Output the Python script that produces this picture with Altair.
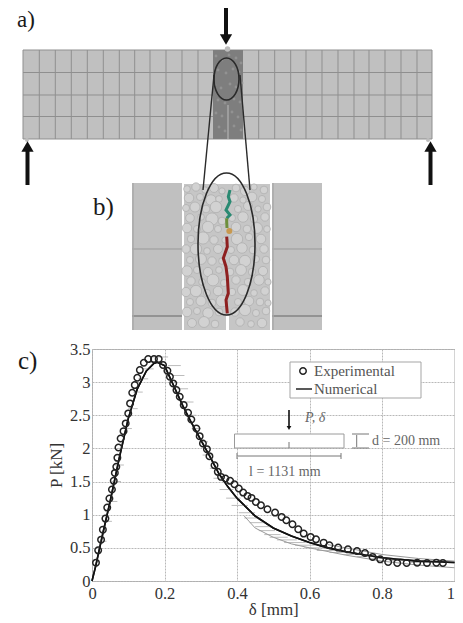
import altair as alt
import pandas as pd

# ---------- panel c) values ----------
exp_d = [.011,.017,.025,.030,.037,.042,.048,.055,.060,.063,.067,.070,.073,.079,.087,.093,.100,.105,.111,.118,.125,.132,.143,.155,.171,.184,.196,.208,.215,.224,.233,.242,.253,.265,.274,.288,.297,.306,.317,.324,.338,.347,.356,.368,.381,.393,.405,.417,.429,.440,.452,.466,.484,.505,.523,.536,.553,.569,.584,.603,.618,.639,.655,.679,.706,.731,.753,.774,.795,.817,.842,.868,.897,.924,.950,.968]
exp_p = [.277,.463,.624,.775,.942,1.108,1.244,1.380,1.511,1.631,1.722,1.858,2.014,2.150,2.261,2.377,2.528,2.679,2.840,2.956,3.066,3.182,3.293,3.348,3.348,3.348,3.258,3.172,3.082,2.981,2.880,2.779,2.654,2.538,2.437,2.301,2.185,2.075,1.989,1.883,1.747,1.647,1.571,1.546,1.511,1.460,1.395,1.334,1.284,1.254,1.193,1.143,1.083,1.032,.967,.916,.856,.780,.715,.665,.629,.579,.539,.504,.478,.453,.423,.363,.327,.287,.272,.272,.277,.272,.277,.272]
num_d = [0,.01,.03,.05,.075,.1,.125,.15,.17,.18,.2,.225,.25,.275,.3,.325,.35,.375,.4,.45,.5,.55,.6,.65,.7,.8,.9,1]
num_p = [0,.22,.72,1.2,1.85,2.45,2.9,3.17,3.28,3.3,3.25,2.95,2.65,2.38,2.13,1.88,1.62,1.42,1.25,.98,.8,.68,.58,.5,.44,.35,.3,.28]
upper_d = [.65,.7,.8,.9,1]
upper_p = [.55,.5,.4,.34,.3]
lower_d = [.42,.45,.5,.55,.6,.7,.8,.9,1]
lower_p = [.98,.8,.66,.56,.5,.39,.3,.24,.2]
err_p  = [.6,.9,1.2,1.5,1.75,2.0,2.3,2.6,2.85,3.05,3.2,3.3,3.38,3.25,3.1,2.9,2.7,2.5,2.3,2.1,1.9,1.7,1.55,1.38,1.25,1.14,1.03,.95,.88,.82,.76,.7,.66,.62,.58,.54,.5,.46,.43,.4,.37,.34,.31,.28]
err_d1 = [.018,.03,.043,.055,.062,.072,.085,.1,.114,.128,.14,.155,.165,.21,.22,.235,.25,.26,.275,.295,.305,.325,.335,.352,.37,.385,.405,.42,.435,.45,.46,.475,.49,.51,.53,.56,.585,.62,.655,.69,.73,.77,.82,.88]
err_d2 = [.04,.055,.07,.08,.088,.1,.11,.126,.14,.155,.17,.19,.21,.245,.255,.265,.28,.288,.3,.32,.33,.345,.365,.39,.41,.43,.45,.465,.48,.495,.505,.52,.54,.565,.59,.62,.65,.69,.72,.76,.8,.85,.9,.97]
y_ticks = [0, .5, 1, 1.5, 2, 2.5, 3, 3.5]
x_ticks = [0, .2, .4, .6, .8, 1]

# ---------- schematic values, in picture pixels ----------
beam_vx = [39.3,55.3,71.3,87.3,103.3,119.3,134.7,150,166,182,198,258.7,274.7,290.7,306,322,338,354,369,385,401,417]
beam_hy = [72.5,95,116.5]
grain_x = [187,196,205,214,222,236,245,254,264,189,200,211,219,234,243,252,262,186,195,206,216,238,248,258,267,190,201,212,222,232,243,254,265,187,197,208,218,236,247,257,267,191,203,214,225,237,249,261,186,196,207,218,231,242,253,264,190,201,212,222,234,245,256,266,187,197,208,219,230,241,252,263,191,202,213,224,236,248,259,268,186,196,207,218,232,243,254,265,190,201,212,222,238,249,260,268,187,197,208,219,235,245,256,266,192,204,215,240,251,262]
grain_y = [189,187,190,188,191,188,191,187,190,198,197,200,199,198,200,197,199,208,207,209,207,209,206,209,207,218,217,219,221,218,217,219,217,228,229,227,229,227,229,228,229,239,238,240,240,239,237,239,249,249,251,249,250,248,250,249,260,259,261,261,260,261,259,260,271,270,272,270,272,270,272,271,281,282,280,283,280,282,280,282,292,291,293,291,292,290,293,291,302,301,303,301,302,301,302,303,312,311,313,312,312,310,313,311,323,322,324,322,324,323]
grain_s = [45,70,40,80,40,60,85,40,60,90,50,110,45,70,40,95,50,50,100,60,130,50,80,40,60,75,45,150,60,50,110,55,70,90,50,130,50,90,60,120,45,55,150,70,40,130,55,90,70,130,45,80,50,110,60,70,50,120,70,45,90,130,50,60,110,50,85,45,60,120,55,85,70,45,140,50,70,55,110,40,85,130,50,90,55,120,45,70,50,100,60,140,50,90,60,40,90,50,110,60,70,130,50,60,80,120,60,70,45,90]
block_x = [216,222,229,236,241,218,226,233,239,215,221,230,236,242,218,225,234,240,216,222,232,238,219,225,234,241]
block_y = [56,60,55,58,63,70,73,69,72,85,88,84,87,83,100,103,99,102,113,116,112,117,127,131,126,130]

frame = dict(domain=False, ticks=False)
PLOT_W = 362.5
PX = alt.Scale(domain=[92, 92 + PLOT_W], nice=False, zero=False)
PY = alt.Scale(domain=[581, 349], nice=False, zero=False)
DX = alt.Scale(domain=[0, 1], nice=False, zero=False)
DY = alt.Scale(domain=[0, 3.5], nice=False, zero=False)
GREY = "#c0c0c0"
SERIF = "Liberation Serif"

def px(**k):
    out = dict(x=alt.X("x:Q", scale=PX, axis=None), y=alt.Y("y:Q", scale=PY, axis=None))
    if "x2" in k: out["x2"] = alt.X2("x2:Q")
    if "y2" in k: out["y2"] = alt.Y2("y2:Q")
    return out

def rects(color, stroke=None, **cols):
    kw = dict(color=color)
    if stroke:
        kw["stroke"] = stroke
    return alt.Chart(pd.DataFrame(cols)).mark_rect(**kw).encode(**px(x2=1, y2=1))

def rules(color, w=1, **cols):
    m = alt.Chart(pd.DataFrame(cols)).mark_rule(color=color, strokeWidth=w)
    return m.encode(**px(**{k: 1 for k in cols if k in ("x2", "y2")}))

def path(color, w, xs, ys):
    df = pd.DataFrame(dict(x=xs, y=ys, o=range(len(xs))))
    return alt.Chart(df).mark_line(color=color, strokeWidth=w, interpolate="linear").encode(
        order="o:Q", **px())

def heads(shape, size, xs, ys, color="#111"):
    return alt.Chart(pd.DataFrame(dict(x=xs, y=ys))).mark_point(
        shape=shape, filled=True, size=size, color=color, opacity=1).encode(**px())

def ellipse(cx, cy, rx, ry):
    r = rx / ry / 2
    shape = f"M0,-0.5A{r:.4f},0.5 0 1,1 0,0.5A{r:.4f},0.5 0 1,1 0,-0.5Z"
    return alt.Chart(pd.DataFrame(dict(x=[cx], y=[cy]))).mark_point(
        shape=shape, filled=False, size=(4 * ry) ** 2, color="#2a2a2a",
        strokeWidth=1.6, opacity=1).encode(**px())

def label(text, x, y, size=24, color="#1a1a1a", italic=False, family=SERIF):
    return alt.Chart(pd.DataFrame(dict(x=[x], y=[y], t=[text]))).mark_text(
        align="left", baseline="middle", fontSize=size, color=color, font=family,
        fontStyle="italic" if italic else "normal").encode(text="t:N", **px())

LINE = "#8f8f8f"
layers = []

# ---- plot c) ----
layers.append(
    alt.Chart(pd.DataFrame(dict(d=num_d, p=num_p))).mark_line(color="#111", strokeWidth=1.6).encode(
        x=alt.X("d:Q", scale=DX, title="δ [mm]",
                axis=alt.Axis(values=x_ticks, labelExpr="datum.value", grid=True, gridColor="#b8b8b8",
                              gridDash=[2, 1], labelPadding=4, labelFontSize=16.5, labelFont=SERIF,
                              labelColor="#333", titleFont=SERIF, titleFontSize=17, titleFontWeight="normal",
                              labelAlign=alt.expr("datum.value == 1 ? 'right' : 'center'"),
                              titleColor="#333", titlePadding=0, labelFlush=False, **frame)),
        y=alt.Y("p:Q", scale=DY, title="P [kN]",
                axis=alt.Axis(values=y_ticks, labelExpr="datum.value", grid=True, gridColor="#b8b8b8",
                              gridDash=[2, 1], labelPadding=2, labelFontSize=16.5, labelFont=SERIF,
                              labelColor="#333", titleFont=SERIF, titleFontSize=17, titleFontWeight="normal",
                              titleColor="#333", titlePadding=4, labelFlush=False, **frame)),
        order="d:Q")
)

# measured scatter as short horizontal bars
layers.append(
    alt.Chart(pd.DataFrame(dict(d=err_d1, d2=err_d2, p=err_p))).mark_rule(color="#bcbcbc", strokeWidth=1).encode(
        x=alt.X("d:Q", scale=DX, axis=None), x2="d2:Q", y=alt.Y("p:Q", scale=DY, axis=None))
)
for xs, ys in ((upper_d, upper_p), (lower_d, lower_p)):
    layers.append(
        alt.Chart(pd.DataFrame(dict(d=xs, p=ys))).mark_line(color="#9a9a9a", strokeWidth=1).encode(
            x=alt.X("d:Q", scale=DX, axis=None), y=alt.Y("p:Q", scale=DY, axis=None), order="d:Q")
    )
layers.append(
    alt.Chart(pd.DataFrame(dict(d=num_d, p=num_p))).mark_line(color="#111", strokeWidth=1.6).encode(
        x=alt.X("d:Q", scale=DX, axis=None), y=alt.Y("p:Q", scale=DY, axis=None), order="d:Q")
)
layers.append(
    alt.Chart(pd.DataFrame(dict(d=exp_d, p=exp_p))).mark_point(
        shape="circle", filled=False, color="#222", size=42, strokeWidth=1.5, opacity=1).encode(
        x=alt.X("d:Q", scale=DX, axis=None), y=alt.Y("p:Q", scale=DY, axis=None))
)

# ---- legend box ----
layers += [
    rects("white", stroke="#a5a5a5", x=[290], x2=[421], y=[362], y2=[398]),
    alt.Chart(pd.DataFrame(dict(x=[303], y=[371]))).mark_point(
        shape="circle", filled=False, color="#222", size=42, strokeWidth=1.5, opacity=1).encode(**px()),
    rules("#222", 1.5, x=[296], x2=[312], y=[389]),
    label("Experimental", 314, 371, 15, "#555"),
    label("Numerical", 314, 389, 15, "#555"),
]

# ---- inset beam ----
layers += [
    rects("white", stroke="#9a9a9a", x=[234.5], x2=[344], y=[434], y2=[448]),
    rules("#777", 1, x=[289], y=[442], y2=[448]),
    rules("#111", 1.6, x=[289], y=[410], y2=[427]),
    heads("triangle-down", 22, [289], [428]),
    rules("#777", 1, x=[238], x2=[341], y=[456]),
    rules("#777", 1, x=[237], y=[453], y2=[459]),
    rules("#777", 1, x=[341], y=[453], y2=[459]),
    rules("#777", 1, x=[352], x2=[369], y=[434]),
    rules("#777", 1, x=[352], x2=[369], y=[448]),
    rules("#777", 1, x=[356.7], y=[435], y2=[447]),
    label("P, δ", 305, 418, 14, "#666", italic=True),
    label("d = 200 mm", 372, 441, 14, "#666"),
    label("l = 1131 mm", 249, 472, 14, "#666"),
]

# ---- a) beam ----
layers += [
    rects(GREY, x=[23], x2=[432], y=[50], y2=[139]),
    rules(LINE, 1, x=beam_vx + [23, 432], y=[50] * 24, y2=[139] * 24),
    rules(LINE, 1, x=[23] * 3, x2=[213] * 3, y=beam_hy),
    rules(LINE, 1, x=[243] * 3, x2=[432] * 3, y=beam_hy),
    rules(LINE, 1, x=[23, 23], x2=[432, 432], y=[50, 139]),
    rects("#7e7e7e", x=[213], x2=[243], y=[50], y2=[139]),
    alt.Chart(pd.DataFrame(dict(x=block_x, y=block_y))).mark_point(
        shape="circle", filled=True, color="#929292", size=8, opacity=1).encode(**px()),
    rules("#bcbcbc", 1, x=[228], y=[105], y2=[139]),
    heads("circle", 30, [227.5], [49], "#bdbdbd"),
    heads("circle", 16, [27], [140], "#bdbdbd"),
    heads("circle", 16, [428], [140], "#bdbdbd"),
]

# ---- b) detail ----
layers += [
    rects(GREY, x=[132], x2=[182], y=[183], y2=[330]),
    rects(GREY, x=[272], x2=[322], y=[183], y2=[330]),
    rules("#999", 1, x=[132, 272], x2=[182, 322], y=[249, 249]),
    rules("#858585", 1.6, x=[132, 272], x2=[182, 322], y=[316, 316]),
    rules("#a8a8a8", 1.4, x=[133, 273], y=[183, 183], y2=[330, 330]),
    rects("#c6c6c6", x=[184], x2=[270], y=[184], y2=[330]),
    alt.Chart(pd.DataFrame(dict(x=grain_x, y=grain_y, s=grain_s))).mark_point(
        shape="circle", filled=True, color="#d2d2d2", stroke="#acacac", strokeWidth=0.7, opacity=1).encode(
        size=alt.Size("s:Q", scale=None, legend=None), **px()),
    rects("white", x=[226], x2=[229], y=[316], y2=[330]),
    path("#2a8a72", 3, [230, 228.3, 230, 226, 230, 226.7], [190, 196.7, 201.7, 210, 215, 218.3]),
    path("#6d8f3c", 3, [226.7, 226.7, 227], [218.3, 221.7, 228]),
    path("#8e2020", 3, [226.7, 227.3, 223.3, 226, 227.3, 228.3, 226, 227.3],
         [236.7, 246.7, 258.3, 266.7, 276.7, 293.3, 300, 313.3]),
    heads("circle", 36, [229.3], [231], "#c8994f"),
    ellipse(226.5, 244, 28.5, 71),
    ellipse(226.5, 79, 12.5, 21),
    path("#2a2a2a", 1.4, [214, 203], [75, 190]),
    path("#2a2a2a", 1.4, [240, 250], [75, 190]),
]

# ---- arrows and letters ----
layers += [
    rules("#111", 4, x=[226], y=[0], y2=[37]),
    heads("triangle-down", 150, [226], [39.5]),
    rules("#111", 4, x=[27.5, 430.5], y=[150, 150], y2=[185, 185]),
    heads("triangle-up", 150, [27.5, 430.5], [146.5, 146.5]),
    label("a)", 17, 20, 23),
    label("b)", 93, 207, 25),
    label("c)", 18, 361, 25),
]

chart = alt.layer(*layers).resolve_scale(x="independent", y="independent").properties(
    width=PLOT_W, height=232,
    autosize=alt.AutoSizeParams(type="none"),
    padding={"left": 84, "top": 341, "right": 0.5, "bottom": 42},
    background="white",
).configure_view(stroke="#a8a8a8")

chart.save("out.html", embed_options={"renderer": "svg", "actions": False})
